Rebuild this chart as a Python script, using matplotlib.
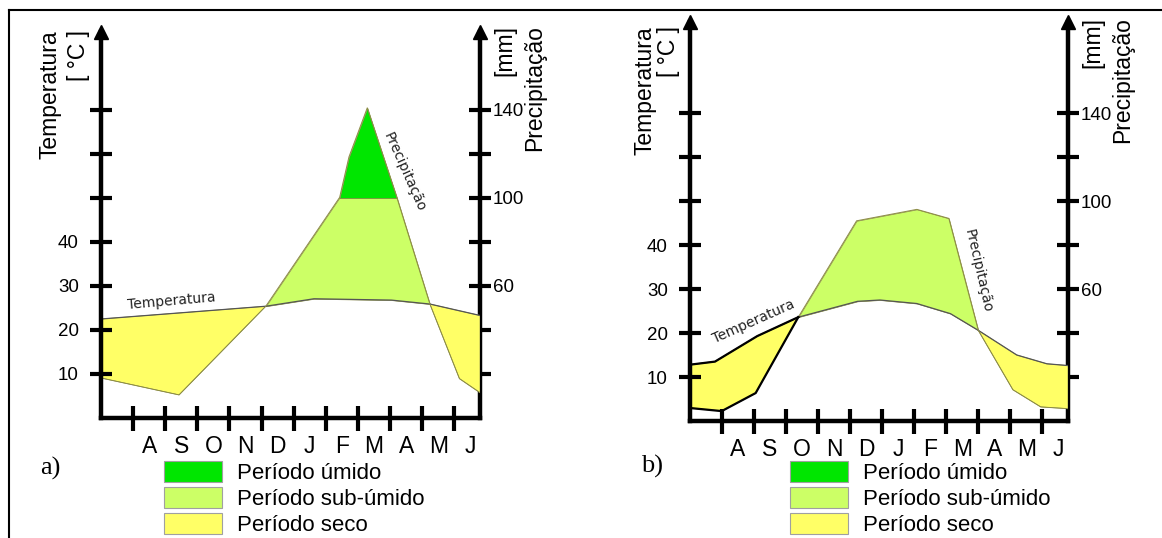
import numpy as np
import matplotlib
matplotlib.use("Agg")
import matplotlib.pyplot as plt
from matplotlib.patches import Patch
from matplotlib.lines import Line2D

plt.rcParams["font.family"] = ["Liberation Sans", "DejaVu Sans"]

# x in months from the start of July, temperature in degC, rain in mm
months = ["A", "S", "O", "N", "D", "J", "F", "M", "A", "M", "J"]
temp_ticks = [10, 20, 30, 40, 50, 60, 70]
temp_labels = ["10", "20", "30", "40", "", "", ""]
rain_ticks = [20, 40, 60, 80, 100, 120, 140]
rain_labels = ["", "", "60", "", "100", "", "140"]

# station a)
a_temp_x = [0, 5.13, 6.63, 9.04, 10.24, 11.8]
a_temp = [22.5, 25.4, 27.1, 26.8, 25.9, 23.3]
a_rain_x = [0, 2.43, 5.13, 7.43, 7.72, 8.29, 9.21, 10.24, 11.16, 11.8]
a_rain = [18.2, 10.5, 50.8, 100.3, 118.7, 141.0, 100.3, 51.8, 17.9, 11.5]

# station b)
b_temp_x = [0, 0.78, 2.1, 3.38, 5.23, 5.93, 7.08, 8.13, 9.0, 10.2, 11.14, 11.8]
b_temp = [12.8, 13.5, 19.3, 23.6, 27.2, 27.5, 26.7, 24.4, 20.6, 15.0, 13.0, 12.6]
b_rain_x = [0, 0.99, 2.05, 3.38, 5.2, 7.08, 8.08, 9.0, 10.08, 10.95, 11.8]
b_rain = [5.9, 4.5, 12.7, 47.2, 91.0, 96.2, 92.1, 41.2, 14.2, 6.4, 5.6]

legend_labels = ["Período úmido", "Período sub-úmido", "Período seco"]

WET = "#00e600"
SUB = "#ccff66"
DRY = "#ffff66"
EDGE = "#8c8c45"

W, H = 1162, 538
fig = plt.figure(figsize=(W / 100, H / 100), dpi=100)


def fx(px):
    return px / W


def fy(py):
    return 1 - py / H


def draw_panel(ax, t_x, t, r_x, r, ytop, dark_until=None):
    t = np.asarray(t, float)
    r = np.asarray(r, float) / 2.0  # 20 mm on the same height as 10 degC
    grid = np.union1d(np.union1d(t_x, r_x), np.linspace(0, 11.8, 800))
    tt = np.interp(grid, t_x, t)
    rr = np.interp(grid, r_x, r)
    ax.fill_between(grid, rr, tt, where=rr <= tt, interpolate=True,
                    facecolor=DRY, edgecolor=EDGE, lw=0.5)
    ax.fill_between(grid, tt, np.minimum(rr, 50), where=rr >= tt,
                    interpolate=True, facecolor=SUB, edgecolor=EDGE, lw=0.5)
    ax.fill_between(grid, 50, rr, where=rr >= 50, interpolate=True,
                    facecolor=WET, edgecolor=EDGE, lw=0.5)
    ax.plot(t_x, t, color="#555555", lw=0.9)
    ax.plot(r_x, r, color=EDGE, lw=0.7)
    if dark_until is not None:
        tx = np.asarray(t_x)
        rx = np.asarray(r_x)
        ax.plot(tx[tx <= dark_until], t[tx <= dark_until], color="k", lw=1.6)
        ax.plot(rx[rx <= dark_until], r[rx <= dark_until], color="k", lw=1.6)

    ax.set_xlim(0, 11.8)
    ax.set_ylim(0, ytop)
    ax.set_facecolor("none")
    for side in ["top", "right"]:
        ax.spines[side].set_visible(False)
    for side in ["left", "bottom"]:
        ax.spines[side].set_linewidth(3.2)
        ax.spines[side].set_capstyle("projecting")

    ax.set_yticks(temp_ticks, temp_labels, fontsize=13.5)
    ax.tick_params(axis="y", direction="inout", length=16, width=3, pad=8)
    ax.set_xticks(range(1, 12), [""] * 11)
    ax.set_xticks(np.arange(1.5, 12), months, minor=True, fontsize=16.5)
    ax.tick_params(axis="x", which="major", direction="inout", length=18,
                   width=3)
    ax.tick_params(axis="x", which="minor", length=0, pad=12)

    sec = ax.secondary_yaxis("right", functions=(lambda v: 2 * v,
                                                  lambda v: v / 2))
    sec.spines["right"].set_linewidth(3.2)
    sec.set_yticks(rain_ticks, rain_labels, fontsize=13.5)
    sec.tick_params(axis="y", direction="inout", length=16, width=3, pad=1)

    # arrow heads on both vertical axes
    for xa in (0, 1):
        ax.plot([xa], [1], marker="^", ms=10, color="k",
                transform=ax.transAxes, clip_on=False)


ax_a = fig.add_axes([fx(101), fy(418), fx(480) - fx(101), (418 - 32) / H])
draw_panel(ax_a, a_temp_x, a_temp, a_rain_x, a_rain, (418 - 32) / 4.4)
ax_a.text(2.2, 26.6, "Temperatura", family="DejaVu Sans", fontsize=10,
          color="#222222", rotation=5, ha="center", va="center",
          rotation_mode="anchor")
ax_a.text(9.44, 55.9, "Precipitação", family="DejaVu Sans", fontsize=10,
          color="#222222", rotation=-66, ha="center", va="center",
          rotation_mode="anchor")

ax_b = fig.add_axes([fx(690), fy(421), fx(1068) - fx(690), (421 - 22) / H])
draw_panel(ax_b, b_temp_x, b_temp, b_rain_x, b_rain, (421 - 22) / 4.4,
           dark_until=3.38)
ax_b.text(1.97, 22.5, "Temperatura", family="DejaVu Sans", fontsize=10,
          color="#222222", rotation=24, ha="center", va="center",
          rotation_mode="anchor")
ax_b.text(8.98, 34.1, "Precipitação", family="DejaVu Sans", fontsize=10,
          color="#222222", rotation=-77, ha="center", va="center",
          rotation_mode="anchor")

# axis titles
for x0, y0, txt in [(50, 30, "Temperatura"), (78, 30, "[ °C ]"),
                    (505, 25, "[mm]"), (535, 25, "Precipitação"),
                    (645, 26, "Temperatura"), (668, 26, "[ °C ]"),
                    (1093, 17, "[mm]"), (1123, 17, "Precipitação")]:
    fig.text(fx(x0), fy(y0), txt, rotation=90, ha="center", va="top",
             fontsize=16.5)

# panel letters
fig.text(fx(40), fy(468), "a)", family="Liberation Serif", fontsize=19,
         va="center", ha="left")
fig.text(fx(641), fy(466), "b)", family="Liberation Serif", fontsize=19,
         va="center", ha="left")

handles = [Patch(facecolor=c, edgecolor="#a0a0a0", lw=0.8)
           for c in (WET, SUB, DRY)]
for x0 in (164, 790):
    fig.legend(handles, legend_labels, loc="upper left",
               bbox_to_anchor=(fx(x0), fy(461)), frameon=False,
               fontsize=16, handlelength=2.6, handleheight=1.08,
               handletextpad=0.7, labelspacing=0.13, borderpad=0,
               borderaxespad=0)

# outer frame
fig.add_artist(Line2D([fx(9), fx(9)], [0, fy(10)], color="k", lw=1.5))
fig.add_artist(Line2D([fx(9), 1], [fy(10), fy(10)], color="k", lw=1.5))

fig.savefig("out.png", dpi=100)
